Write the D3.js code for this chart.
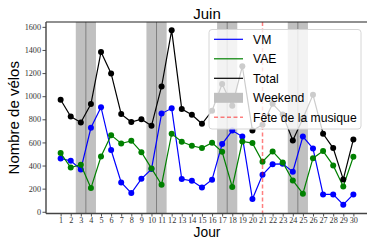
<!DOCTYPE html>
<html>
<head>
<meta charset="utf-8">
<script src="https://cdn.jsdelivr.net/npm/d3@7"></script>
<style>
    body { margin: 0; background: #fff; }
    .tick text { font-family: "Liberation Serif", serif; font-size: 8.2px; fill: #333; }
    .lbl { font-family: "Liberation Sans", sans-serif; font-size: 15px; fill: #000; }
    .leg { font-family: "Liberation Sans", sans-serif; font-size: 12.2px; fill: #000; }
</style>
</head>
<body>
<svg id="chart" width="367" height="240"></svg>
<script>
var days = d3.range(1, 31);
var vm = [461, 441, 366, 727, 905, 534, 254, 162, 285, 369, 850, 895, 283, 268, 210,
          277, 586, 703, 651, 110, 320, 412, 415, 346, 651, 548, 150, 150, 61, 150];
var vae = [508, 383, 407, 205, 478, 663, 591, 614, 516, 375, 234, 675, 606, 571, 551,
           597, 519, 214, 608, 594, 433, 522, 427, 271, 156, 464, 525, 401, 219, 476];
var total = [969, 824, 773, 932, 1383, 1197, 845, 776, 801, 744, 1084, 1570, 889, 839, 761,
             874, 1105, 917, 1259, 704, 753, 934, 842, 617, 807, 1012, 675, 551, 280, 626];
var weekends = [[3, 4], [10, 11], [17, 18], [24, 25]];
var fete = 21;
var yTicks = [0, 200, 400, 600, 800, 1000, 1200, 1400, 1600];

var svg = d3.select('#chart');
var plotLeft = 46, plotRight = 368, plotTop = 22, plotBottom = 213.5;

var x = d3.scaleLinear().domain([-0.45, 31.45]).range([plotLeft, plotRight]);
var y = d3.scaleLinear().domain([-15, 1642]).range([plotBottom, plotTop]);

//Weekend spans
var spans = svg.append('g');
weekends.forEach(function(w) {
    spans.append('rect')
        .attr('x', x(w[0] - 0.5)).attr('y', plotTop)
        .attr('width', x(w[1] + 0.5) - x(w[0] - 0.5))
        .attr('height', plotBottom - plotTop)
        .attr('fill', '#c0c0c0');
    spans.append('line')
        .attr('x1', x(w[0] + 0.5)).attr('x2', x(w[0] + 0.5))
        .attr('y1', plotTop).attr('y2', plotBottom)
        .attr('stroke', '#808080').attr('stroke-width', 1);
});

//Series
var series = [
    {name: 'VM', values: vm, color: '#0000ff'},
    {name: 'VAE', values: vae, color: '#008000'},
    {name: 'Total', values: total, color: '#000000'}
];
var line = d3.line()
    .x(function(d, i) { return x(days[i]); })
    .y(function(d) { return y(d); });

series.forEach(function(s) {
    var g = svg.append('g');
    g.append('path').attr('d', line(s.values))
        .attr('fill', 'none').attr('stroke', s.color).attr('stroke-width', 1.2);
    g.selectAll('circle').data(s.values).enter().append('circle')
        .attr('cx', function(d, i) { return x(days[i]); })
        .attr('cy', function(d) { return y(d); })
        .attr('r', 3)
        .attr('fill', s.color);
});

// Fete de la musique
svg.append('line')
    .attr('x1', x(fete)).attr('x2', x(fete))
    .attr('y1', plotTop).attr('y2', plotBottom)
    .attr('stroke', '#ff0000').attr('stroke-opacity', 0.5)
    .attr('stroke-width', 1.5).attr('stroke-dasharray', '4,2.5');

//Axes
var xAxis = d3.axisBottom(x).tickValues(days).tickSize(3).tickPadding(0.5).tickFormat(d3.format('d'));
var yAxis = d3.axisLeft(y).tickValues(yTicks).tickSize(3.5).tickPadding(1.5).tickFormat(d3.format('d'));
var gx = svg.append('g').attr('transform', 'translate(0,' + plotBottom + ')').call(xAxis);
var gy = svg.append('g').attr('transform', 'translate(' + plotLeft + ',0)').call(yAxis);
gx.select('.domain').remove();
gy.select('.domain').remove();
svg.selectAll('.tick line').attr('stroke', '#222').attr('stroke-width', 0.8);

//Spines
svg.append('line').attr('x1', plotLeft).attr('x2', 367).attr('y1', plotTop).attr('y2', plotTop)
    .attr('stroke', '#222').attr('stroke-width', 1.1);
svg.append('line').attr('x1', plotLeft).attr('x2', 367).attr('y1', plotBottom).attr('y2', plotBottom)
    .attr('stroke', '#444').attr('stroke-width', 1.4);
svg.append('line').attr('x1', plotLeft).attr('x2', plotLeft).attr('y1', plotTop).attr('y2', plotBottom)
    .attr('stroke', '#444').attr('stroke-width', 1.4);

//Labels
svg.append('text').attr('class', 'lbl').attr('x', (plotLeft + plotRight) / 2).attr('y', 18.5)
    .attr('text-anchor', 'middle').text('Juin');
svg.append('text').attr('class', 'lbl').attr('x', (plotLeft + plotRight) / 2).attr('y', 237)
    .attr('text-anchor', 'middle').style('font-size', '13.8px').text('Jour');
svg.append('text').attr('class', 'lbl')
    .attr('transform', 'translate(19,' + (plotTop + plotBottom) / 2 + ') rotate(-90)')
    .attr('text-anchor', 'middle').text('Nombre de vélos');

//Legend
var legend = svg.append('g');
legend.append('rect')
    .attr('x', 209).attr('y', 29.5).attr('width', 152).attr('height', 99.5)
    .attr('rx', 3).attr('fill', '#fff').attr('fill-opacity', 0.8)
    .attr('stroke', '#d6d6d6').attr('stroke-width', 1);
var items = [
    {label: 'VM', type: 'line', color: '#0000ff'},
    {label: 'VAE', type: 'line', color: '#008000'},
    {label: 'Total', type: 'line', color: '#000000'},
    {label: 'Weekend', type: 'rect', color: '#c0c0c0'},
    {label: 'Fête de la musique', type: 'dash', color: '#ff0000'}
];
items.forEach(function(it, i) {
    var cy = 39.3 + i * 19.5;
    if (it.type === 'rect') {
        legend.append('rect').attr('x', 214).attr('y', cy - 5).attr('width', 29).attr('height', 10)
            .attr('fill', it.color);
    } else {
        legend.append('line').attr('x1', 214).attr('x2', 243).attr('y1', cy).attr('y2', cy)
            .attr('stroke', it.color).attr('stroke-width', it.type === 'dash' ? 1.5 : 1.2)
            .attr('stroke-opacity', it.type === 'dash' ? 0.5 : 1)
            .attr('stroke-dasharray', it.type === 'dash' ? '4,2.5' : null);
    }
    legend.append('text').attr('class', 'leg').attr('x', 253).attr('y', cy + 4.5).text(it.label);
});
</script>
</body>
</html>
